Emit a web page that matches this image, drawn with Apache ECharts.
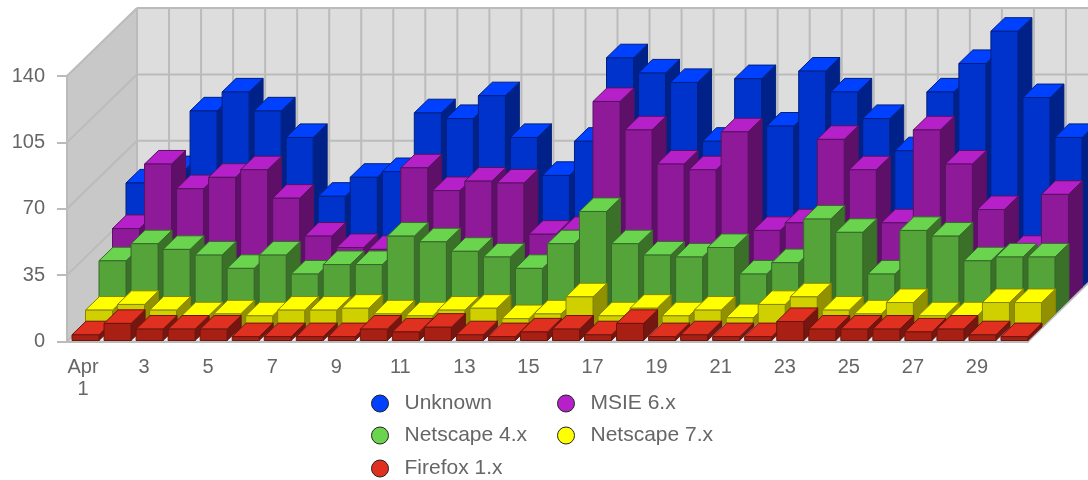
<!DOCTYPE html>
<html><head><meta charset="utf-8">
<style>html,body{margin:0;padding:0;background:#fff}#c{width:1088px;height:480px}</style>
<script src="https://cdn.jsdelivr.net/npm/echarts@6/dist/echarts.min.js"></script>
</head><body><div id="c"></div>
<script>
const days = ['Apr\n1','2','3','4','5','6','7','8','9','10','11','12','13','14','15','16','17','18','19','20','21','22','23','24','25','26','27','28','29','30'];
const yTicks = [0,35,70,105,140];
const unknown = [55,62,93,103,93,79,48,58,61,92,89,101,79,59,77,121,113,108,77,110,85,114,103,89,72,103,118,135,100,79];
const msie6 = [38,72,59,65,69,54,34,28,27,70,58,63,62,35,37,105,90,72,69,89,37,41,85,69,41,90,72,48,27,56];
const netscape4 = [28,37,34,31,24,31,21,26,26,41,38,33,30,24,37,54,37,31,30,35,21,27,50,43,21,44,41,28,30,30];
const netscape7 = [9,12,9,6,7,6,9,9,10,7,6,9,10,4.5,7,16,6,10,6,9,5,12,16,9,7,13,6,6,13,13];
const firefox = [3,9,6,6,6,2,2,2,2,6,4.5,7,3,2,4.5,6,3,9,2,3,2,2,10,6,6,6,4.5,6,3,2];

const DX=14, DY=13.6, STEPX=13.5, STEPY=13.3, INSET=5, BARW=27, WALLX=70, WALLY=68;
const GRID='#bbbbbb';
const palette = {
  'Unknown':     {top:'#0040ff',front:'#0033cc',side:'#002288',line:'#002080',depth:4,vals:unknown},
  'MSIE 6.x':    {top:'#b520c8',front:'#8e1a9a',side:'#5e1068',line:'#581260',depth:3,vals:msie6},
  'Netscape 4.x':{top:'#6ad44e',front:'#54a43a',side:'#3a7028',line:'#37692a',depth:2,vals:netscape4},
  'Netscape 7.x':{top:'#ffff00',front:'#d0d000',side:'#909000',line:'#868600',depth:1,vals:netscape7},
  'Firefox 1.x': {top:'#e03020',front:'#a82014',side:'#761610',line:'#6c1410',depth:0,vals:firefox}
};
const names = Object.keys(palette);

function poly(pts,fill,stroke){return {type:'polygon',shape:{points:pts},style:{fill:fill,stroke:stroke,lineWidth:1}};}
function seg(a,b){return {type:'line',shape:{x1:a[0],y1:a[1],x2:b[0],y2:b[1]},style:{stroke:GRID,lineWidth:2}};}

function renderWall(params,api){
  if(params.dataIndex!==0) return null;
  const o=api.coord([0,0]); const step=api.size([1,0])[0];
  const x0=o[0]-step/2, x1=x0+step*days.length, y0=o[1], yTop=api.coord([0,yTicks[yTicks.length-1]])[1];
  const ch=[];
  ch.push(poly([[x0,y0],[x1,y0],[x1+WALLX,y0-WALLY],[x0+WALLX,y0-WALLY]],'#ffffff','none'));
  ch.push(poly([[x0,y0],[x0,yTop],[x0+WALLX,yTop-WALLY],[x0+WALLX,y0-WALLY]],'#c8c8c8','none'));
  ch.push(poly([[x0+WALLX,y0-WALLY],[x0+WALLX,yTop-WALLY],[x1+WALLX,yTop-WALLY],[x1+WALLX,y0-WALLY]],'#dddddd','none'));
  for(let i=0;i<=days.length;i++){const x=x0+WALLX+i*step; ch.push(seg([x,y0-WALLY],[x,yTop-WALLY]));}
  yTicks.forEach(t=>{const y=api.coord([0,t])[1];
    ch.push(seg([x0,y],[x0+WALLX,y-WALLY])); ch.push(seg([x0+WALLX,y-WALLY],[x1+WALLX,y-WALLY]));});
  ch.push(seg([x0,y0],[x0,yTop]));
  ch.push(seg([x0,y0],[x1,y0]));
  ch.push(seg([x1,y0],[x1+WALLX,y0-WALLY]));
  return {type:'group',children:ch};
}
function bar(p){
  return function(params,api){
    const top=api.coord([api.value(0),api.value(1)]), base=api.coord([api.value(0),0]);
    const step=api.size([1,0])[0];
    const x=base[0]-step/2+INSET+p.depth*STEPX, yb=base[1]-1-p.depth*STEPY, h=base[1]-top[1], yt=yb-h;
    const xr=x+BARW;
    return {type:'group',children:[
      poly([[xr,yb],[xr,yt],[xr+DX,yt-DY],[xr+DX,yb-DY]],p.side,p.line),
      poly([[x,yt],[xr,yt],[xr+DX,yt-DY],[x+DX,yt-DY]],p.top,p.line),
      poly([[x,yb],[x,yt],[xr,yt],[xr,yb]],p.front,p.line)
    ]};
  };
}
const series=[{type:'custom',name:'walls',silent:true,z:1,renderItem:renderWall,data:[[0,0]],encode:{x:0,y:1},clip:false}];
names.forEach(n=>{const p=palette[n];
  series.push({type:'custom',name:n,z:2,clip:false,renderItem:bar(p),encode:{x:0,y:1},
    itemStyle:{color:p.top},data:p.vals.map((v,i)=>[i,v])});
});
const legendPos={'Unknown':[371,393],'MSIE 6.x':[557,393],'Netscape 4.x':[371,425],'Netscape 7.x':[557,425],'Firefox 1.x':[371,458]};
const font='"Liberation Sans",Arial,sans-serif';
const legend=names.map(n=>({show:true,left:legendPos[n][0],top:legendPos[n][1],padding:0,icon:'circle',itemWidth:17,itemHeight:17,
  data:[{name:n,itemStyle:{color:palette[n].top,borderColor:'#222222',borderWidth:1}}],
  textStyle:{color:'#666666',fontSize:21,fontFamily:font,padding:[0,0,0,11]},selectedMode:false}));
const chart=echarts.init(document.getElementById('c'),null,{renderer:'canvas'});
chart.setOption({animation:false,backgroundColor:'#ffffff',legend:legend,tooltip:{show:false},
  grid:{left:67,right:60,top:76,bottom:138.5},
  xAxis:[
    {type:'category',data:days,axisLine:{lineStyle:{color:GRID,width:2}},
     axisTick:{alignWithLabel:true,interval:1,length:11,lineStyle:{color:GRID,width:2}},
     axisLabel:{interval:1,color:'#666666',fontSize:20,fontFamily:font,margin:15,lineHeight:22,verticalAlign:'top',
       formatter:function(v){return v.indexOf('\n')>=0?v:'{d|'+v+'}';},
       rich:{d:{color:'#666666',fontSize:20,fontFamily:font,padding:[0,6,0,0]}}},splitLine:{show:false}},
    {type:'category',position:'bottom',data:days,axisLine:{show:false},
     axisTick:{alignWithLabel:true,interval:0,length:5,lineStyle:{color:GRID,width:2}},axisLabel:{show:false},splitLine:{show:false}}
  ],
  yAxis:{type:'value',min:0,max:140,interval:35,axisLine:{show:true,lineStyle:{color:GRID,width:2}},
    axisTick:{show:true,length:10,lineStyle:{color:GRID,width:2}},
    axisLabel:{color:'#666666',fontSize:20,fontFamily:font,margin:22},splitLine:{show:false}},
  series:series});
</script></body></html>
